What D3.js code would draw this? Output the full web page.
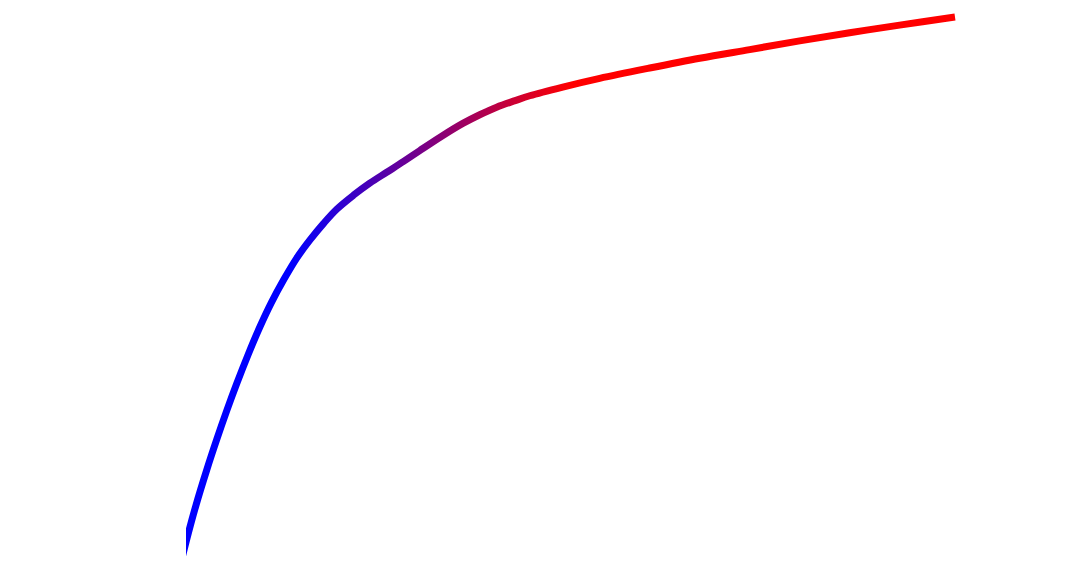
<!DOCTYPE html>
<html>
<head>
<meta charset="utf-8">
<script src="https://cdn.jsdelivr.net/npm/d3@7"></script>
<style>
  html, body { margin: 0; padding: 0; background: #fff; }
  #chart { width: 1079px; height: 580px; }
</style>
</head>
<body>
<div id="chart"></div>
<script>
// --- Data ---
const xValues = [-1.4, 0, 1.3, 2.7, 4.0, 5.3, 6.6, 8.1, 9.6, 11.1, 12.7, 14.4, 16.1, 17.9, 19.6, 21.8, 23.9, 26.1, 28.3, 30.4, 33.2, 36.0, 38.2, 40.4, 42.8, 44.7, 49.0, 53.8, 60.3, 66.8, 73.3, 79.8, 86.3, 92.8, 100];
const yValues = [-4.8, 3.3, 10.1, 16.6, 22.2, 27.5, 32.5, 37.9, 42.9, 47.4, 51.6, 55.6, 58.9, 62.0, 64.6, 67.2, 69.4, 71.4, 73.4, 75.4, 78.0, 80.4, 82.0, 83.4, 84.6, 85.5, 87.1, 88.7, 90.6, 92.4, 94.0, 95.6, 97.1, 98.5, 100];

// gradient runs along x (data units)
const gradientOffsets = [13.5, 50];
const gradientColors = ["#0000ff", "#ff0000"];

// --- Dimensions ---
const W = 1079;
const H = 580;
const margin = { top: 17, right: 124, bottom: 20, left: 186 };

const svg = d3.select("#chart")
  .append("svg")
  .attr("width", W)
  .attr("height", H)
  .style("display", "block");

const x = d3.scaleLinear()
  .domain([0, 100])
  .range([margin.left, W - margin.right]);

const y = d3.scaleLinear()
  .domain([0, 100])
  .range([H - margin.bottom, margin.top]);

const data = xValues.map((v, i) => [v, yValues[i]]);

// --- Gradient ---
const defs = svg.append("defs");

defs.append("linearGradient")
  .attr("id", "line-gradient")
  .attr("gradientUnits", "userSpaceOnUse")
  .attr("x1", x(gradientOffsets[0]))
  .attr("y1", 0)
  .attr("x2", x(gradientOffsets[1]))
  .attr("y2", 0)
  .selectAll("stop")
  .data(gradientColors)
  .join("stop")
  .attr("offset", (_, i) => i / (gradientColors.length - 1))
  .attr("stop-color", d => d);

// plot area clip (the curve runs past the left edge)
defs.append("clipPath")
  .attr("id", "plot-clip")
  .append("rect")
  .attr("x", x(0))
  .attr("y", 0)
  .attr("width", W - x(0))
  .attr("height", H);

// --- Line ---
const line = d3.line()
  .x(d => x(d[0]))
  .y(d => y(d[1]))
  .curve(d3.curveCatmullRom.alpha(0.5));

svg.append("path")
  .datum(data)
  .attr("clip-path", "url(#plot-clip)")
  .attr("fill", "none")
  .attr("stroke", "url(#line-gradient)")
  .attr("stroke-width", 7)
  .attr("d", line);
</script>
</body>
</html>
